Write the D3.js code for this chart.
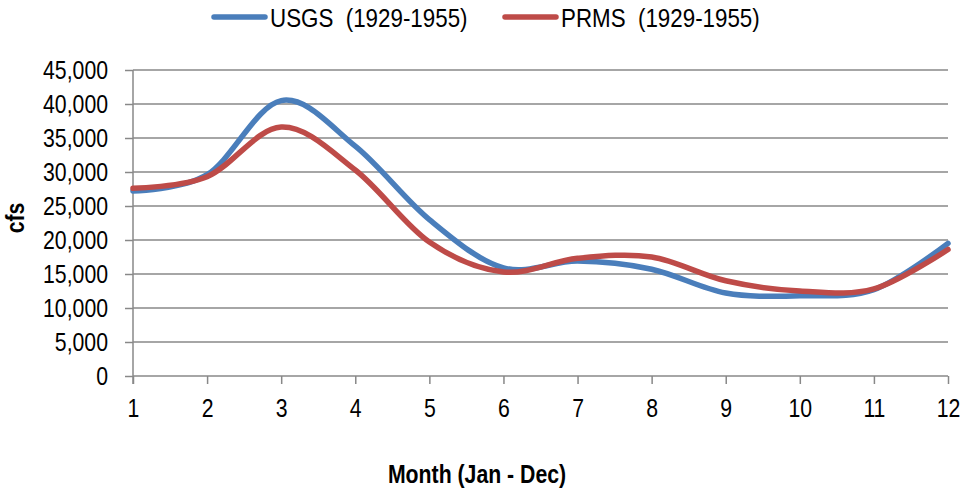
<!DOCTYPE html>
<html>
<head>
<meta charset="utf-8">
<script src="https://cdn.jsdelivr.net/npm/d3@7"></script>
<style>
  html, body { margin: 0; padding: 0; background: #fff; }
  svg { display: block; }
  text { font-family: "Liberation Sans", Arial, sans-serif; fill: #000; white-space: pre; }
</style>
</head>
<body>
<svg id="chart" width="964" height="493"></svg>
<script>
// Mean monthly streamflow, cubic feet per second
const months = [1, 2, 3, 4, 5, 6, 7, 8, 9, 10, 11, 12];
const usgs = [27200, 29600, 40500, 33800, 23000, 15900, 16900, 15700, 12200, 11800, 12700, 19500];
const prms = [27600, 29300, 36600, 30300, 19700, 15300, 17300, 17500, 14000, 12500, 12800, 18600];
const yTicks = [0, 5000, 10000, 15000, 20000, 25000, 30000, 35000, 40000, 45000];
const seriesNames = ["USGS  (1929-1955)", "PRMS  (1929-1955)"];
const seriesColors = ["#4A7EBB", "#BE4B48"];

const svg = d3.select("#chart");
const plot = { left: 133, right: 948, top: 70, bottom: 376 };
const gridColor = "#888888";
const fontSize = 25;
const narrow = 0.85; // horizontal squeeze for a condensed look

const x = d3.scaleLinear().domain([1, 12]).range([plot.left, plot.right]);
const y = d3.scaleLinear().domain([0, 45000]).range([plot.bottom, plot.top]);

// place a condensed label at (px, py)
function label(parent, px, py, txt, anchor, bold, rotate, size, squeeze) {
  return parent.append("text")
    .attr("transform", `translate(${px},${py})${rotate ? " rotate(-90)" : ""} scale(${squeeze || narrow},1)`)
    .attr("text-anchor", anchor)
    .style("font-size", (size || fontSize) + "px")
    .style("font-weight", bold ? "bold" : "normal")
    .text(txt);
}

// horizontal gridlines
svg.append("g")
  .selectAll("line")
  .data(yTicks.filter(d => d > 0))
  .join("line")
  .attr("x1", plot.left).attr("x2", plot.right)
  .attr("y1", d => y(d)).attr("y2", d => y(d))
  .attr("stroke", gridColor).attr("stroke-width", 1.5);

// y axis
const yAxis = svg.append("g")
  .attr("transform", `translate(${plot.left},0)`)
  .call(d3.axisLeft(y).tickValues(yTicks).tickSize(8).tickFormat(d3.format(",")));
yAxis.select(".domain").attr("stroke", gridColor).attr("stroke-width", 1.5)
  .attr("d", `M0,${plot.top}V${plot.bottom + 8}`);
yAxis.selectAll(".tick line").attr("stroke", gridColor).attr("stroke-width", 1.5);
yAxis.selectAll(".tick text")
  .attr("x", null).attr("dy", null)
  .attr("transform", `translate(-25,8.5) scale(${narrow},1)`)
  .style("font-size", fontSize + "px");

// x axis
const xAxis = svg.append("g")
  .attr("transform", `translate(0,${plot.bottom})`)
  .call(d3.axisBottom(x).tickValues(months).tickSize(8).tickFormat(d3.format("d")));
xAxis.select(".domain").attr("stroke", gridColor).attr("stroke-width", 1.5)
  .attr("d", `M${plot.left},0H${plot.right}`);
xAxis.selectAll(".tick line").attr("stroke", gridColor).attr("stroke-width", 1.5);
xAxis.selectAll(".tick text")
  .attr("y", null).attr("dy", null)
  .attr("transform", `translate(0,40.5) scale(${narrow},1)`)
  .style("font-size", fontSize + "px");

// smoothed series lines
const line = d3.line()
  .x((d, i) => x(months[i]))
  .y(d => y(d))
  .curve(d3.curveCardinal.tension(0));

[usgs, prms].forEach((vals, i) => {
  svg.append("path")
    .datum(vals)
    .attr("fill", "none")
    .attr("stroke", seriesColors[i])
    .attr("stroke-width", 5.5)
    .attr("stroke-linecap", "round")
    .attr("stroke-linejoin", "round")
    .attr("d", line);
});

// axis titles
label(svg, 24, 218, "cfs", "middle", true, true);
label(svg, 477, 483, "Month (Jan - Dec)", "middle", true, false);

// legend
const legendX = [212, 503];
seriesNames.forEach((name, i) => {
  svg.append("line")
    .attr("x1", legendX[i] + 2).attr("x2", legendX[i] + 53)
    .attr("y1", 17).attr("y2", 17)
    .attr("stroke", seriesColors[i]).attr("stroke-width", 5.5)
    .attr("stroke-linecap", "round");
  label(svg, legendX[i] + 58, 26.5, name, "start", false, false, 26, 0.86);
});
</script>
</body>
</html>
